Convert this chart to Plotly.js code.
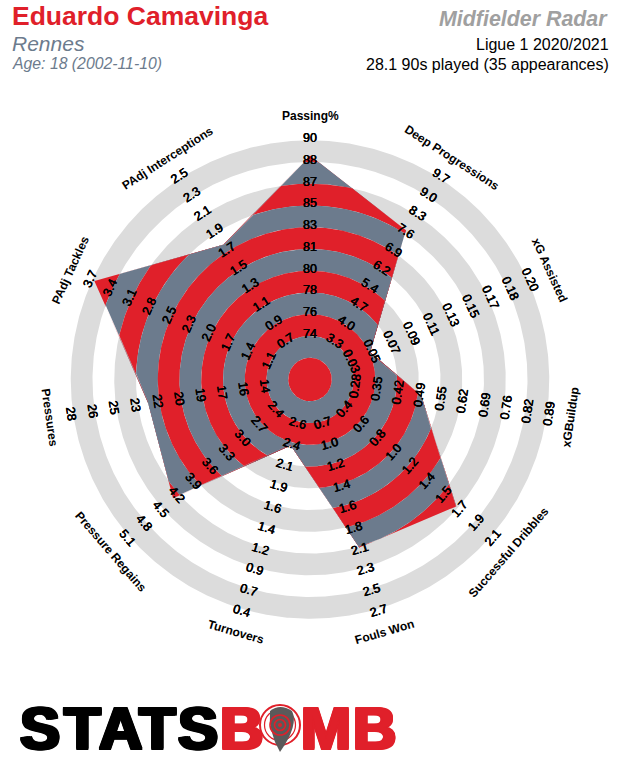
<!DOCTYPE html>
<html>
<head>
<meta charset="utf-8">
<script src="https://cdn.plot.ly/plotly-3.0.1.min.js"></script>
<style>html,body{margin:0;padding:0;background:#fff}</style>
</head>
<body>
<div id="chart" style="width:620px;height:780px"></div>
<script>
const categories = ["Passing%","Deep Progressions","xG Assisted","xGBuildup","Successful Dribbles","Fouls Won","Turnovers","Pressure Regains","Pressures","PAdj Tackles","PAdj Interceptions"];
const playerValues = [88.6,7.71,0.05,0.50,1.68,2.11,2.36,4.3,22.5,3.67,1.77];
const ticksPassing = ["74","76","78","80","81","83","85","87","88","90"];
const ticksDeep = ["3.3","4.0","4.7","5.4","6.2","6.9","7.6","8.3","9.0","9.7"];
const ticksXGA = ["0.03","0.05","0.07","0.09","0.11","0.13","0.15","0.17","0.18","0.20"];
const ticksBuildup = ["0.28","0.35","0.42","0.49","0.55","0.62","0.69","0.76","0.82","0.89"];
const ticksDribbles = ["0.4","0.6","0.8","1.0","1.2","1.4","1.5","1.7","1.9","2.1"];
const ticksFouls = ["0.7","1.0","1.2","1.4","1.6","1.8","2.1","2.3","2.5","2.7"];
const ticksTurnovers = ["2.6","2.4","2.1","1.9","1.6","1.4","1.2","0.9","0.7","0.4"];
const ticksRegains = ["2.4","2.7","3.0","3.3","3.6","3.9","4.2","4.5","4.8","5.1"];
const ticksPressures = ["14","16","17","19","20","22","23","25","26","28"];
const ticksTackles = ["1.1","1.4","1.7","2.0","2.3","2.5","2.8","3.1","3.4","3.7"];
const ticksInterceptions = ["0.7","0.9","1.1","1.3","1.5","1.7","1.9","2.1","2.3","2.5"];
const allTicks = [ticksPassing,ticksDeep,ticksXGA,ticksBuildup,ticksDribbles,ticksFouls,ticksTurnovers,ticksRegains,ticksPressures,ticksTackles,ticksInterceptions];

const RED="#E0202A", SLATE="#6C7B8D", GREY="#DCDCDC", WHITE="#FFFFFF";
const UNIT=21.75, CX=310, CY=379.5, W=620, H=780, RINGS=11;
const n=categories.length;
const axisAngle=i=>i*2*Math.PI/n;
const toXY=(r,a)=>[r*Math.sin(a),r*Math.cos(a)];
const px=x=>(x-CX)/UNIT, py=y=>(CY-y)/UNIT;

// value -> ring position along the axis, read through that axis's own ticks (first tick sits on ring 2)
function ringPos(values,v){
  const t=values.map(Number);
  for(let i=0;i<t.length-1;i++){
    const lo=Math.min(t[i],t[i+1]),hi=Math.max(t[i],t[i+1]);
    if(v>=lo&&v<=hi) return i+2+(v-t[i])/(t[i+1]-t[i]);
  }
  return 11;
}
const radii=playerValues.map((v,i)=>ringPos(allTicks[i],v));
function polyR(a){
  const step=2*Math.PI/n;
  const aa=((a%(2*Math.PI))+2*Math.PI)%(2*Math.PI);
  const i=Math.min(n-1,Math.floor(aa/step));
  const j=(i+1)%n, a1=i*step, a2=(i+1)*step;
  const r1=radii[i], r2=radii[j];
  return r1*r2*Math.sin(step)/(r1*Math.sin(aa-a1)+r2*Math.sin(a2-aa));
}
const angles=[];
for(let d=0;d<720;d++) angles.push(d/720*2*Math.PI);
for(let i=0;i<n;i++) angles.push(axisAngle(i));
angles.sort((p,q)=>p-q);

const traces=[];
function addBand(outer,inner,color){
  const x=[],y=[];
  angles.forEach(a=>{const [X,Y]=toXY(outer(a),a);x.push(X);y.push(Y);});
  x.push(x[0]);y.push(y[0]);
  if(inner){
    const ix=[],iy=[];
    angles.forEach(a=>{const [X,Y]=toXY(inner(a),a);ix.push(X);iy.push(Y);});
    ix.push(ix[0]);iy.push(iy[0]);
    ix.reverse();iy.reverse();
    x.push(...ix);y.push(...iy);
  }
  x.push(x[0]);y.push(y[0]);
  traces.push({type:"scatter",mode:"lines",x,y,fill:"toself",fillcolor:color,line:{width:0,color},hoverinfo:"skip",showlegend:false});
}
for(let k=RINGS;k>=1;k-=2) addBand(()=>k,k>1?()=>k-1:null,GREY);
for(let k=RINGS;k>=1;k--){
  addBand(a=>Math.min(k,polyR(a)),k>1?a=>Math.min(k-1,polyR(a)):null,k%2?RED:SLATE);
}

const annotations=[];
const TEXTFONT="Liberation Sans";
const tickShadow="0.3px 0 0 #000,-0.3px 0 0 #000";
for(let i=0;i<n;i++){
  const a=axisAngle(i);
  const lower=(a>Math.PI/2&&a<3*Math.PI/2);
  const rot=(a*180/Math.PI)-(lower?180:0);
  allTicks[i].forEach((t,idx)=>{
    const r=(idx+2)+0.1;
    const [X,Y]=toXY(r,a);
    annotations.push({x:X,y:Y,xref:"x",yref:"y",text:t,showarrow:false,textangle:rot,xanchor:"center",yanchor:"middle",font:{family:TEXTFONT,size:12.5,color:"#000",shadow:tickShadow},borderpad:0});
  });
  const [X,Y]=toXY(12.1,a);
  annotations.push({x:X,y:Y,xref:"x",yref:"y",text:categories[i],showarrow:false,textangle:rot,xanchor:"center",yanchor:"middle",font:{family:TEXTFONT,size:12,color:"#000",weight:"bold"},borderpad:0});
}
function hdr(text,x,y,anchor,size,color,weight,style,shadow){
  annotations.push({x:px(x),y:py(y),xref:"x",yref:"y",text,showarrow:false,xanchor:anchor,yanchor:"middle",
    font:{family:TEXTFONT,size,color,weight:weight||"normal",style:style||"normal",shadow:shadow||"none"},borderpad:0});
}
hdr("Eduardo Camavinga",11,16,"left",26.5,RED,"bold");
hdr("Rennes",11,43,"left",21,SLATE,"normal","italic");
hdr("Age: 18 (2002-11-10)",11,63,"left",15.8,SLATE,"normal","italic");
hdr("Midfielder Radar",609,19,"right",21.4,"#A0A0A0","bold","italic");
hdr("Ligue 1 2020/2021",610,44,"right",16,"#000");
hdr("28.1 90s played (35 appearances)",610,64,"right",16,"#000");
const heavy=c=>["1.7px 0","-1.7px 0","0.9px 0","-0.9px 0","0 0.6px","0 -0.6px","1.7px 0.6px","-1.7px -0.6px","1.7px -0.6px","-1.7px 0.6px"].map(o=>o+" 0 "+c).join(",");
const logoLetters=["S","T","A","T","S","B","M","B"];
const logoCenters=[40,82,120,157,198,241,326,374];
logoLetters.forEach((l,i)=>{
  const c=i<5?"#000":RED;
  hdr(l,logoCenters[i],728,"center",60,c,"bold","normal",heavy(c));
});

// logo target
const shapes=[];
function circ(cx,cy,r,fill,lc,lw){
  shapes.push({type:"circle",xref:"x",yref:"y",x0:px(cx-r),x1:px(cx+r),y0:py(cy-r),y1:py(cy+r),fillcolor:fill,line:{color:lc||fill,width:lw||0},layer:"above"});
}
circ(280,725,20,WHITE,RED,2);
circ(280,725,15.5,WHITE,RED,1.2);
shapes.push({type:"path",xref:"x",yref:"y",layer:"above",fillcolor:"#5A5A5A",line:{width:0},
  path:"M"+px(270)+" "+py(711)+" Q"+px(280)+" "+py(703)+" "+px(292)+" "+py(711)+" Q"+px(299)+" "+py(725)+" "+px(280)+" "+py(752)+" Q"+px(268)+" "+py(731)+" "+px(270)+" "+py(711)+"Z"});
circ(280,725,10,"rgba(0,0,0,0)",RED,1.6);
circ(280,725,5.5,"rgba(0,0,0,0)",RED,1.6);
circ(280,725,2,RED,RED,0);

const layout={width:W,height:H,margin:{l:0,r:0,t:0,b:0},paper_bgcolor:"#fff",plot_bgcolor:"#fff",showlegend:false,
  xaxis:{range:[px(0),px(W)],visible:false,fixedrange:true},
  yaxis:{range:[py(H),py(0)],visible:false,fixedrange:true},
  annotations,shapes};
Plotly.newPlot("chart",traces,layout,{staticPlot:true,displayModeBar:false});
</script>
</body>
</html>
